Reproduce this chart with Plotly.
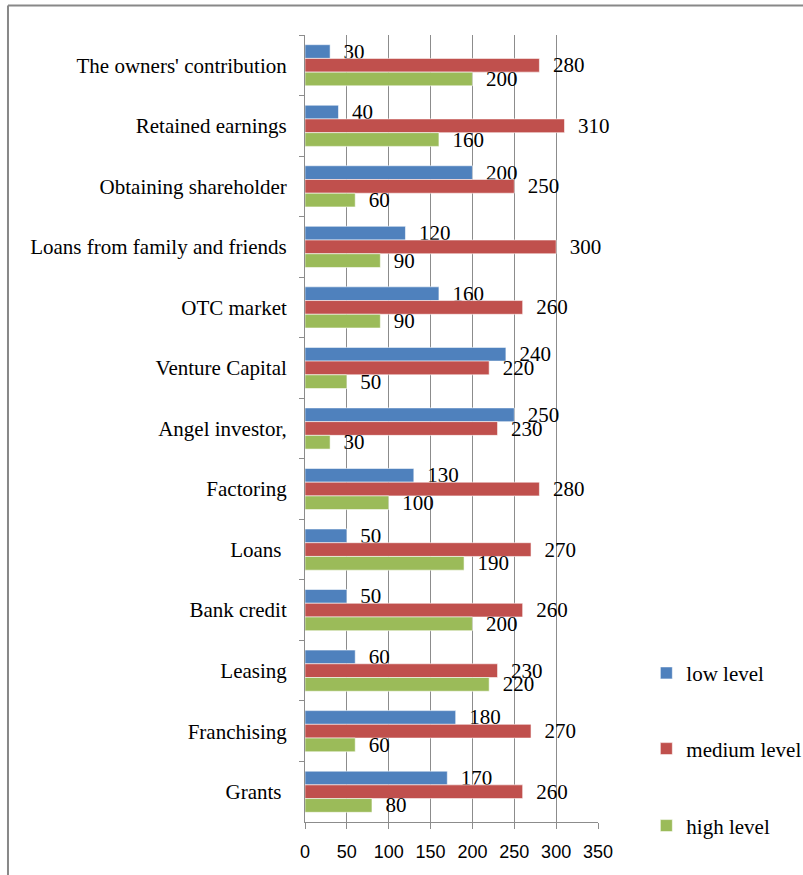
import plotly.graph_objects as go

categories = [
    "The owners' contribution",
    "Retained earnings",
    "Obtaining shareholder",
    "Loans from family and friends",
    "OTC market",
    "Venture Capital",
    "Angel investor,",
    "Factoring",
    "Loans\u00a0",
    "Bank credit",
    "Leasing",
    "Franchising",
    "Grants\u00a0",
]
low_level = [30, 40, 200, 120, 160, 240, 250, 130, 50, 50, 60, 180, 170]
medium_level = [280, 310, 250, 300, 260, 220, 230, 280, 270, 260, 230, 270, 260]
high_level = [200, 160, 60, 90, 90, 50, 30, 100, 190, 200, 220, 60, 80]
x_ticks = [0, 50, 100, 150, 200, 250, 300, 350]

series = [
    ("low level", low_level, "#4F81BD", "legend"),
    ("medium level", medium_level, "#C0504D", "legend2"),
    ("high level", high_level, "#9BBB59", "legend3"),
]

SERIF = "Liberation Serif, Times New Roman, serif"
SANS = "Liberation Sans, Arial, sans-serif"

fig = go.Figure()
for name, vals, color, lg in series:
    fig.add_trace(go.Bar(
        y=categories, x=vals, name=name, orientation="h",
        marker=dict(color=color, line=dict(color="rgba(255,255,255,0.7)", width=0.8)),
        text=vals, texttemplate="\u00a0\u00a0%{x}", textposition="outside",
        textfont=dict(family=SERIF, size=21, color="#000"),
        constraintext="none", cliponaxis=False, legend=lg,
    ))

grid = "#8C8C8C"
legend_font = dict(family=SERIF, size=21, color="#000")
fig.update_layout(
    width=803, height=875,
    margin=dict(l=305, r=205, t=35, b=53, autoexpand=False),
    paper_bgcolor="white", plot_bgcolor="white",
    barmode="group", bargap=0.32, bargroupgap=0,
    xaxis=dict(range=[0, 350], tickvals=x_ticks, showgrid=True, gridcolor=grid, gridwidth=1,
               showline=True, linecolor=grid, ticks="outside", ticklen=6, tickcolor=grid,
               tickfont=dict(family=SANS, size=18, color="#000"), ticklabelstandoff=7,
               zeroline=False, fixedrange=True, automargin=False),
    yaxis=dict(autorange="reversed", showgrid=False, showline=True, linecolor=grid,
               ticks="outside", ticklen=5, tickcolor=grid, tickson="boundaries",
               tickfont=dict(family=SERIF, size=21, color="#000"), ticklabelstandoff=13,
               fixedrange=True, automargin=False),
    showlegend=True,
    legend=dict(x=1.165, y=0.189, xanchor="left", yanchor="middle",
                font=legend_font, bgcolor="rgba(0,0,0,0)"),
    legend2=dict(x=1.165, y=0.0928, xanchor="left", yanchor="middle",
                 font=legend_font, bgcolor="rgba(0,0,0,0)"),
    legend3=dict(x=1.165, y=-0.005, xanchor="left", yanchor="middle",
                 font=legend_font, bgcolor="rgba(0,0,0,0)"),
)

# outer frame (top and left edges visible)
fig.add_shape(type="line", xref="paper", yref="paper", x0=-1.0137, x1=1.75, y0=1.0375, y1=1.0375,
              line=dict(color="#888888", width=2))
fig.add_shape(type="line", xref="paper", yref="paper", x0=-1.0137, x1=-1.0137, y0=1.0375, y1=-0.08,
              line=dict(color="#888888", width=2))

fig.write_html("out.html", config={"displayModeBar": False},
               post_script="document.body.style.margin='0';document.body.style.overflow='hidden';")
